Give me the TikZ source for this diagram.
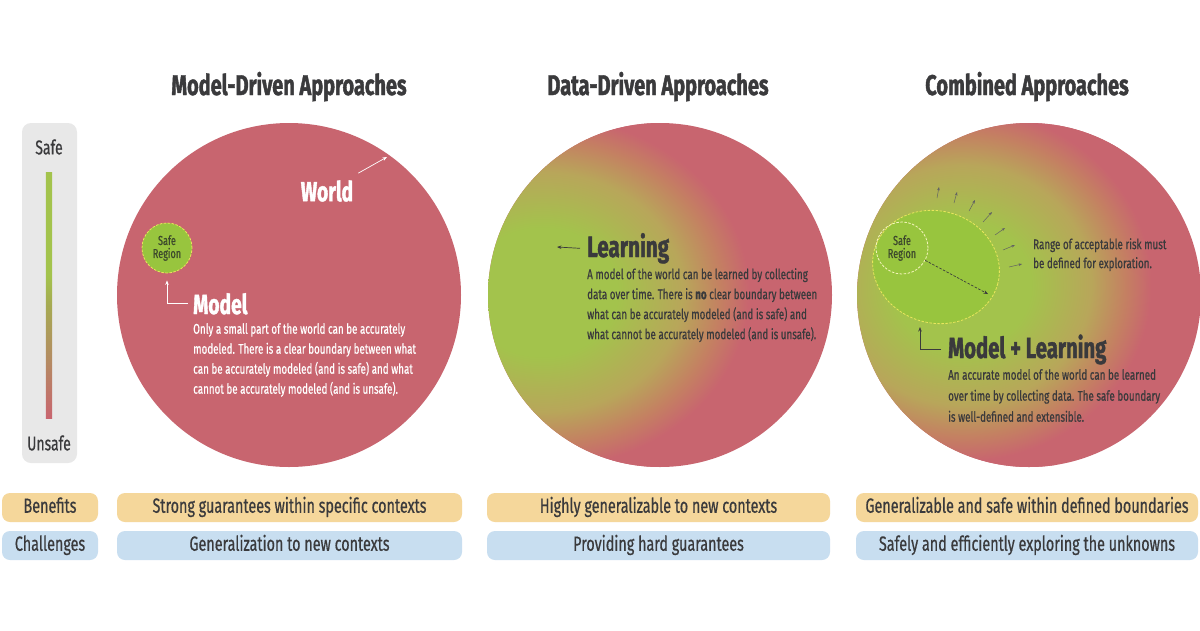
\documentclass[tikz,border=0pt]{standalone}
\usepackage{fontspec}
\setmainfont[FakeStretch=0.7,FakeBold=0.6]{Fira Sans}
\newfontfamily\heavyfont[FakeStretch=0.7,FakeBold=1.4]{Fira Sans}
\usetikzlibrary{arrows.meta}
\definecolor{sred}{RGB}{200,101,111}
\definecolor{sorange}{RGB}{196,128,98}
\definecolor{sgreen}{RGB}{163,195,76}
\definecolor{solive}{RGB}{184,166,90}
\definecolor{barmid}{RGB}{180,140,98}
\definecolor{barolive}{RGB}{166,170,82}
\definecolor{brightgreen}{RGB}{152,197,62}
\definecolor{dashy}{RGB}{232,230,92}
\definecolor{txtdark}{RGB}{58,58,60}
\definecolor{srtext}{RGB}{60,72,44}
\definecolor{tanpill}{RGB}{245,215,155}
\definecolor{bluepill}{RGB}{200,222,240}
\definecolor{barbg}{RGB}{232,232,232}
\pgfdeclareradialshading{blob}{\pgfpoint{0bp}{0bp}}{color(0bp)=(sgreen); color(8bp)=(sgreen); color(15bp)=(solive); color(19bp)=(sorange); color(22bp)=(sred); color(50bp)=(sred)}
\pgfdeclareverticalshading{safebar}{18bp}{color(0bp)=(sred); color(25bp)=(sred); color(37bp)=(barmid); color(48bp)=(barolive); color(54bp)=(sgreen); color(100bp)=(sgreen)}
\begin{document}
\begin{tikzpicture}[x=1pt,y=-1pt,
  title/.style={font=\fontsize{28.5}{30}\selectfont\heavyfont\bfseries, text=txtdark, anchor=base, inner sep=0},
  heading/.style={anchor=base west, inner sep=0},
  desc/.style={font=\fontsize{14}{20}\selectfont, align=left, anchor=north west, inner sep=0},
  scalelbl/.style={font=\fontsize{20}{22}\selectfont, text=txtdark, inner sep=0},
  pill/.style={rounded corners=8pt, minimum height=29pt, inner sep=0, font=\fontsize{20.5}{22}\selectfont, text=txtdark, text height=14.5pt, text depth=4pt},
  world/.style={circle, fill=sred, minimum size=344pt, inner sep=0},
  srcircle/.style={circle, draw=dashy, dash pattern=on 2.5pt off 1.5pt, line width=0.8pt, inner sep=0, align=center, font=\fontsize{13}{15}\selectfont, text=srtext},
  warrow/.style={draw=white, line width=0.7pt, -{Stealth[length=4.5pt,width=3.5pt]}},
  darrow/.style={draw=txtdark, line width=0.7pt, -{Stealth[length=4.5pt,width=3.5pt]}},
  rarrow/.style={draw=txtdark!80, line width=0.5pt, -{Stealth[length=3.5pt,width=2.6pt]}}
]
\useasboundingbox (0,0) rectangle (1200,630);
\fill[white] (0,0) rectangle (1200,630);

% titles
\node[title] (t1) at (289,95) {Model-Driven Approaches};
\node[title] (t2) at (658,95) {Data-Driven Approaches};
\node[title] (t3) at (1027,95) {Combined Approaches};

% scale bar
\node[fill=barbg, rounded corners=9pt, minimum width=55pt, minimum height=340pt, inner sep=0] (scalebg) at (49.5,293) {};
\node[shade, shading=safebar, minimum width=18pt, minimum height=246pt, inner sep=0] (bar) at (49,295) {};
\node[scalelbl] (safe) at (49,147) {Safe};
\node[scalelbl] (unsafe) at (49,443) {Unsafe};

% circle 1
\node[world] (w1) at (289,295) {};
\node[srcircle, fill=brightgreen, minimum size=50pt] (sr1) at (167,248) {Safe\\[-2pt]Region};
\node[font=\fontsize{27.5}{30}\selectfont\heavyfont\bfseries, text=white, inner sep=0] (wl) at (327,191) {World};
\coordinate (worldtip) at (387,157);
\draw[warrow] (wl.north east) ++(5,-7) -- (worldtip);
\node[heading, text=white, font=\fontsize{27.5}{30}\selectfont\heavyfont\bfseries] (mh1) at (193,314) {Model};
\draw[warrow] ([xshift=-5pt]mh1.west) -| ([yshift=-7pt]sr1.south);
\node[desc, text=white] (md1) at (193,323) {Only a small part of the world can be accurately\\modeled. There is a clear boundary between what\\can be accurately modeled (and is safe) and what\\cannot be accurately modeled (and is unsafe).};

% circle 2
\node[world] (w2) at (660,295) {};
\begin{scope}
  \clip (660,295) circle[radius=172pt];
  \shade[shading=blob] (542,292) ellipse[x radius=235pt, y radius=200pt];
\end{scope}
\node[heading, text=txtdark, font=\fontsize{29.5}{31}\selectfont\heavyfont\bfseries] (mh2) at (587,257) {Learning};
\coordinate (learntip) at (557,247);
\draw[darrow] ([xshift=-7pt]mh2.west) -- (learntip);
\node[desc, text=txtdark] (md2) at (587,268) {A model of the world can be learned by collecting\\data over time. There is {\heavyfont\bfseries no} clear boundary between\\what can be accurately modeled (and is safe) and\\what cannot be accurately modeled (and is unsafe).};

% circle 3
\node[world] (w3) at (1029,295) {};
\begin{scope}
  \clip (1029,295) circle[radius=172pt];
  \shade[shading=blob] (962,285) ellipse[x radius=215pt, y radius=200pt];
\end{scope}
\draw[draw=dashy, dash pattern=on 2.5pt off 1.5pt, line width=0.8pt, fill=brightgreen, rotate around={-16:(936,267)}] (936,267) ellipse[x radius=64pt, y radius=56pt];
\node[srcircle, draw=dashy!40!white, minimum size=52pt] (sr3) at (902,248) {Safe\\[-2pt]Region};
\coordinate (edge3) at (988,294);
\draw[darrow, dash pattern=on 2.5pt off 1.5pt] (sr3.-28) -- (edge3);
\foreach \i/\ax/\ay/\bx/\by in {1/937/198/939/187, 2/954/203/957/192, 3/969/211/975/200, 4/983/222/992/212, 5/995/235/1005/228, 6/1003/250/1015/245, 7/1009/267/1022/264}{
  \coordinate (ra\i) at (\ax,\ay);
  \coordinate (rb\i) at (\bx,\by);
  \draw[rarrow] (ra\i) -- (rb\i);
}
\node[desc, text=txtdark, font=\fontsize{14}{19}\selectfont] (risk) at (1033,238) {Range of acceptable risk must\\be defined for exploration.};
\node[heading, text=txtdark, font=\fontsize{29}{31}\selectfont\heavyfont\bfseries] (mh3) at (948,358) {Model + Learning};
\coordinate (ell3tip) at (920,327);
\draw[darrow] ([xshift=-7pt]mh3.west) -| (ell3tip);
\node[desc, text=txtdark, font=\fontsize{14}{21}\selectfont] (md3) at (948,369) {An accurate model of the world can be learned\\over time by collecting data. The safe boundary\\is well-defined and extensible.};

% bottom rows
\node[pill, fill=tanpill, minimum width=96pt] (ben) at (50,507.5) {Benefits};
\node[pill, fill=bluepill, minimum width=96pt] (cha) at (50,545.5) {Challenges};
\node[pill, fill=tanpill, minimum width=345pt] (b1) at (289.5,507.5) {Strong guarantees within specific contexts};
\node[pill, fill=bluepill, minimum width=345pt] (c1) at (289.5,545.5) {Generalization to new contexts};
\node[pill, fill=tanpill, minimum width=343pt] (b2) at (658.5,507.5) {Highly generalizable to new contexts};
\node[pill, fill=bluepill, minimum width=343pt] (c2) at (658.5,545.5) {Providing hard guarantees};
\node[pill, fill=tanpill, minimum width=342pt] (b3) at (1027,507.5) {Generalizable and safe within defined boundaries};
\node[pill, fill=bluepill, minimum width=342pt] (c3) at (1027,545.5) {Safely and efficiently exploring the unknowns};
\end{tikzpicture}
\end{document}
